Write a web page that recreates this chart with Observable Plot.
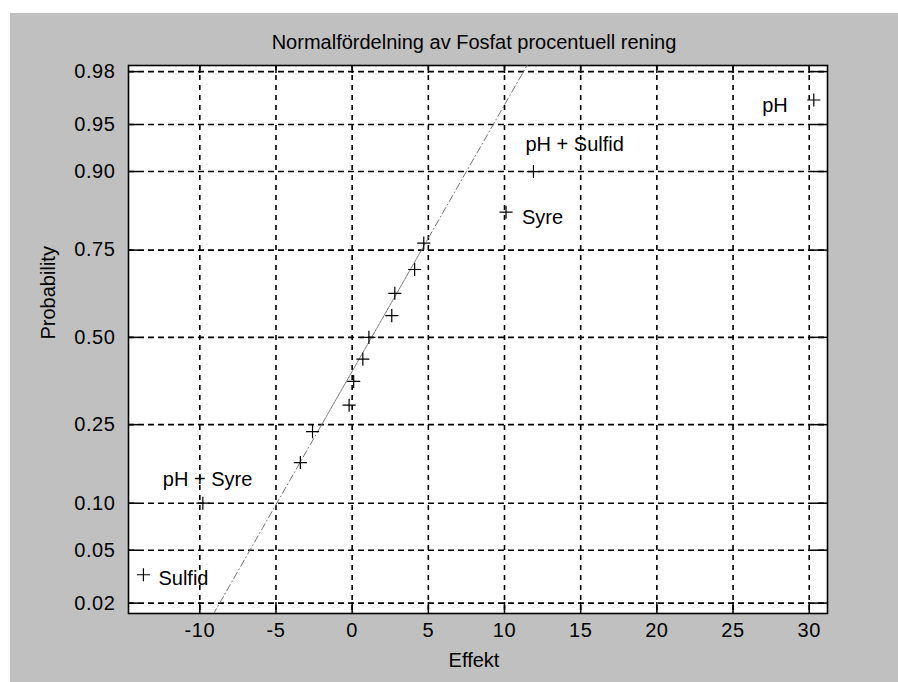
<!DOCTYPE html>
<html><head><meta charset="utf-8">
<script src="https://cdn.jsdelivr.net/npm/d3@7"></script>
<script src="https://cdn.jsdelivr.net/npm/@observablehq/plot@0.6"></script>
<style>
html,body{margin:0;padding:0;background:#fff;}
#wrap{position:relative;width:898px;height:682px;overflow:hidden;}
#bg{position:absolute;left:10px;top:13px;right:0;bottom:0;background:#c0c0c0;}
#chart{position:absolute;left:0;top:0;}
</style></head><body>
<div id="wrap"><div id="bg"></div><div id="chart"></div></div>
<script>
// ---- data ----
const effects = [-13.7, -9.8, -3.4, -2.6, -0.2, 0.1, 0.7, 1.1, 2.6, 2.8, 4.1, 4.7, 10.1, 11.9, 30.3];
const probabilities = [0.0333, 0.1, 0.1667, 0.2333, 0.3, 0.3667, 0.4333, 0.5, 0.5667, 0.6333, 0.7, 0.7667, 0.8333, 0.9, 0.9667];
const names = ["Sulfid", "pH + Syre", "", "", "", "", "", "", "", "", "", "", "Syre", "pH + Sulfid", "pH"];
const xTicks = [-10, -5, 0, 5, 10, 15, 20, 25, 30];
const yTickLabels = [0.02, 0.05, 0.10, 0.25, 0.50, 0.75, 0.90, 0.95, 0.98];
const xDomain = [-14.68, 31.2];
const zDomain = [-2.134, 2.101];
const title = "Normalfördelning av Fosfat procentuell rening";
const xLabel = "Effekt";
const yLabel = "Probability";

// inverse standard normal CDF (Acklam)
function norminv(p) {
  const a = [-3.969683028665376e+01, 2.209460984245205e+02, -2.759285104469687e+02, 1.383577518672690e+02, -3.066479806614716e+01, 2.506628277459239e+00];
  const b = [-5.447609879822406e+01, 1.615858368580409e+02, -1.556989798598866e+02, 6.680131188771972e+01, -1.328068155288572e+01];
  const c = [-7.784894002430293e-03, -3.223964580411365e-01, -2.400758277161838e+00, -2.549732539343734e+00, 4.374664141464968e+00, 2.938163982698783e+00];
  const d = [7.784695709041462e-03, 3.224671290700398e-01, 2.445134137142996e+00, 3.754408661907416e+00];
  const pl = 0.02425, ph = 1 - pl;
  let q, r;
  if (p < pl) { q = Math.sqrt(-2 * Math.log(p)); return (((((c[0]*q+c[1])*q+c[2])*q+c[3])*q+c[4])*q+c[5]) / ((((d[0]*q+d[1])*q+d[2])*q+d[3])*q+1); }
  if (p > ph) { q = Math.sqrt(-2 * Math.log(1 - p)); return -(((((c[0]*q+c[1])*q+c[2])*q+c[3])*q+c[4])*q+c[5]) / ((((d[0]*q+d[1])*q+d[2])*q+d[3])*q+1); }
  q = p - 0.5; r = q * q;
  return (((((a[0]*r+a[1])*r+a[2])*r+a[3])*r+a[4])*r+a[5])*q / (((((b[0]*r+b[1])*r+b[2])*r+b[3])*r+b[4])*r+1);
}

const data = effects.map((x, i) => ({x, z: norminv(probabilities[i]), name: names[i]}));
const zTicks = yTickLabels.map(norminv);
const tickLabel = z => { let k = 0; zTicks.forEach((t, i) => { if (Math.abs(t - z) < Math.abs(zTicks[k] - z)) k = i; }); return yTickLabels[k].toFixed(2); };

// reference line through the quartiles (as normplot does)
const sorted = effects.slice().sort((a, b) => a - b);
function prctile(p) { const n = sorted.length; const pos = p * n + 0.5; const i = Math.floor(pos); const f = pos - i; return sorted[i - 1] + f * (sorted[i] - sorted[i - 1]); }
const q1 = prctile(0.25), q3 = prctile(0.75), z1 = norminv(0.25), z3 = norminv(0.75);
const slope = (z3 - z1) / (q3 - q1);
const zAt = x => z1 + (x - q1) * slope;
const xmin = d3.min(effects), xmax = d3.max(effects);
const fitMid = [{x: q1, z: z1}, {x: q3, z: z3}];
const fitLow = [{x: xmin, z: zAt(xmin)}, {x: q1, z: z1}];
const fitHigh = [{x: q3, z: z3}, {x: xmax, z: zAt(xmax)}];

const W = 898, H = 682, mL = 128, mR = 71, mT = 65, mB = 69;
const fw = W - mL - mR, fh = H - mT - mB;
const labelFont = "Liberation Sans, Arial, Helvetica, sans-serif";
const grid = {stroke: "black", strokeOpacity: 1, strokeWidth: 1.6};
const lab = (name, o) => Plot.text(data.filter(d => d.name === name), {x: "x", y: "z", text: "name", fontSize: 20, fill: "black", lineAnchor: "middle", ...o});

const chart = Plot.plot({
  width: W, height: H, marginLeft: mL, marginRight: mR, marginTop: mT, marginBottom: mB,
  x: {domain: xDomain},
  y: {domain: zDomain},
  style: {background: "transparent", fontFamily: labelFont, color: "black"},
  marks: [
    Plot.frame({fill: "white", stroke: null}),
    Plot.ruleY(zTicks, {...grid, strokeDasharray: "6,4"}),
    Plot.ruleX(xTicks, {...grid, strokeDasharray: "5,5"}),
    Plot.ruleX(xTicks, {stroke: "black", strokeWidth: 1.5, insetTop: fh - 11}),
    Plot.ruleX(xTicks, {stroke: "black", strokeWidth: 1.5, insetBottom: fh - 8}),
    Plot.ruleY(zTicks, {stroke: "black", strokeWidth: 1.5, insetRight: fw - 10}),
    Plot.ruleY(zTicks, {stroke: "black", strokeWidth: 1.5, insetLeft: fw - 13}),
    Plot.frame({stroke: "black", strokeWidth: 1.6}),
    Plot.line(fitLow, {x: "x", y: "z", stroke: "#777", strokeWidth: 1, strokeDasharray: "7,3,1,3", clip: true}),
    Plot.line(fitHigh, {x: "x", y: "z", stroke: "#777", strokeWidth: 1, strokeDasharray: "7,3,1,3", clip: true}),
    Plot.line(fitMid, {x: "x", y: "z", stroke: "#777", strokeWidth: 1, strokeDasharray: "2,1"}),
    Plot.dot(data, {x: "x", y: "z", symbol: "plus", r: 4.3, stroke: "black", fill: "none", strokeWidth: 1.2}),
    lab("Sulfid", {textAnchor: "start", dx: 15, dy: 4}),
    lab("pH + Syre", {textAnchor: "start", dx: -40, dy: -24}),
    lab("Syre", {textAnchor: "start", dx: 16, dy: 5}),
    lab("pH + Sulfid", {textAnchor: "start", dx: -8, dy: -27}),
    lab("pH", {textAnchor: "end", dx: -26, dy: 6}),
    Plot.axisX({ticks: xTicks, tickSize: 0, tickPadding: 9, tickFormat: d => String(d), fontSize: 20, fontFamily: labelFont, label: null}),
    Plot.axisY({ticks: zTicks, tickSize: 0, tickPadding: 13, tickFormat: tickLabel, fontSize: 20, fontFamily: labelFont, label: null}),
    Plot.text([title], {frameAnchor: "top", dx: -4, dy: -23, lineAnchor: "middle", fontSize: 20, fill: "black"}),
    Plot.text([xLabel], {frameAnchor: "bottom", dx: -4, dy: 47, lineAnchor: "middle", fontSize: 20, fill: "black"}),
    Plot.text([yLabel], {frameAnchor: "left", dx: -80, dy: 0, rotate: -90, lineAnchor: "middle", fontSize: 20, fill: "black"})
  ]
});
d3.select(chart).selectAll("g[aria-label$='tick label'] text").style("letter-spacing", "0.6px");
document.getElementById("chart").appendChild(chart);
</script>
</body></html>
